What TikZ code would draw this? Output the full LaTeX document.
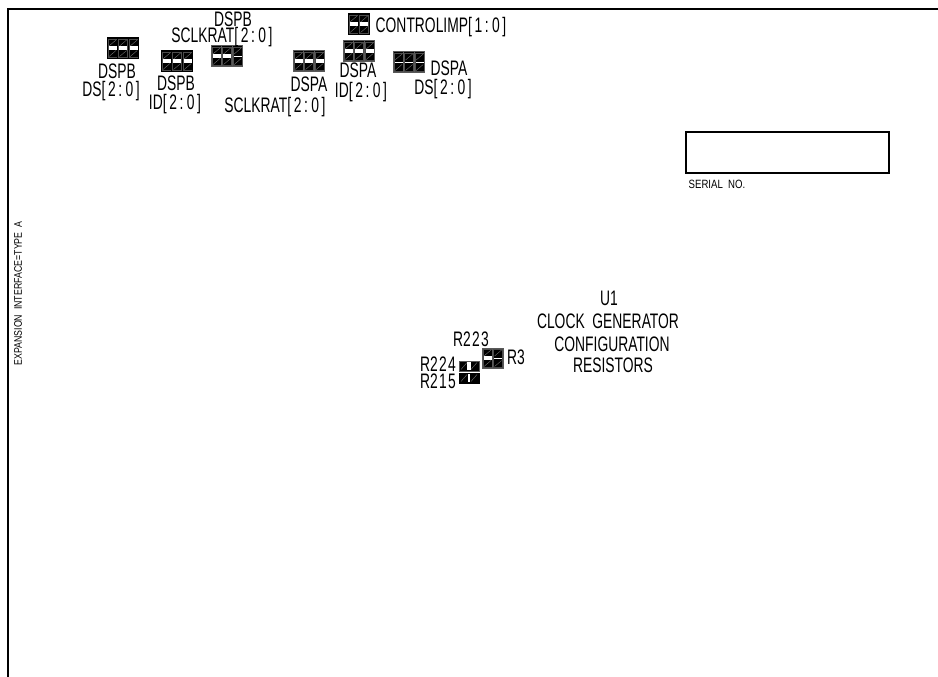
\documentclass[tikz,border=0pt]{standalone}
\usepackage{fontspec}
\setmainfont{Liberation Sans}
\usepackage{graphicx}

\definecolor{padgray}{rgb}{0.35,0.35,0.35}

\newcommand{\cadtext}[2][21bp]{\scalebox{0.66}[1]{\fontsize{#1}{#1}\selectfont #2}}
\newcommand{\cadsmall}[2][12bp]{\scalebox{0.8}[1]{\fontsize{#1}{#1}\selectfont #2}}
\newcommand{\cadrange}[2]{[\kern4bp #1\kern4bp:\kern5bp #2\kern4bp]}

% one jumper column: left x, top y, band height, border colour
\newcommand{\jumpcol}[4]{
  \fill [black] (#1,#2) rectangle ++(10.6,20.4);
  \draw [white!45!black,line width=0.4bp] (#1+2,#2+8) -- (#1+9,#2+2);
  \draw [white!45!black,line width=0.4bp] (#1+2,#2+18.5) -- (#1+9,#2+12.5);
  \fill [white] (#1+0.6,#2+10.2-#3/2) rectangle ++(9.4,#3);
  \draw [white!30!black,line width=0.4bp] (#1+0.9,#2+1) rectangle ++(8.8,18.4);
  \draw [#4,line width=1bp] (#1,#2) rectangle ++(10.6,20.4);
}

% one flat jumper: left x, top y, band width, border colour
\newcommand{\jumprow}[4]{
  \fill [black] (#1,#2) rectangle ++(20,10);
  \draw [white!45!black,line width=0.4bp] (#1+2,#2+8.5) -- (#1+8,#2+1.5);
  \draw [white!45!black,line width=0.4bp] (#1+12,#2+8.5) -- (#1+18,#2+1.5);
  \fill [white] (#1+10-#3/2,#2+0.6) rectangle ++(#3,8.8);
  \draw [#4,line width=1bp] (#1,#2) rectangle ++(20,10);
}

\tikzset{
  lbl/.style={inner sep=0pt,outer sep=0pt,anchor=center},
  serialbox/.style={draw,line width=2.9bp},
  frameline/.style={line width=1.8bp},
}

\begin{document}
\begin{tikzpicture}[x=1bp,y=-1bp]

\useasboundingbox (0,0) rectangle (938,677);

% Sheet frame
\draw [frameline] (938,9) -- (8,9) -- (8,677);

% Jumpers: DSPB
\jumpcol{107}{38}{4}{black}\jumpcol{117.6}{38}{4}{black}\jumpcol{128.2}{38}{4}{black}
\jumpcol{161}{51}{4}{black}\jumpcol{171.6}{51}{4}{black}\jumpcol{182.2}{51}{4}{black}
\jumpcol{211}{46}{4}{padgray}\jumpcol{221.6}{46}{4}{padgray}\jumpcol{232.2}{46}{1.2}{padgray}

% Jumpers: DSPA
\jumpcol{293}{51}{4}{padgray}\jumpcol{303.6}{51}{4}{padgray}\jumpcol{314.2}{51}{4}{padgray}
\jumpcol{343}{41}{4}{padgray}\jumpcol{353.6}{41}{4}{padgray}\jumpcol{364.2}{41}{4}{padgray}
\jumpcol{393}{52}{1.2}{padgray}\jumpcol{403.6}{52}{1.2}{padgray}\jumpcol{414.2}{52}{1.2}{padgray}

% Jumper: CONTROLIMP
\jumpcol{348}{14}{4}{black}\jumpcol{358.6}{14}{4}{black}

% Jumper: R3
\jumpcol{482}{348}{4}{padgray}\jumpcol{492.6}{348}{1.2}{padgray}

% Jumpers: R224, R215
\jumprow{459}{361}{3.4}{padgray}
\jumprow{459}{373}{1.4}{black}

% Serial box
\draw [serialbox] (686,132) rectangle (889,173);
\node [lbl] (serial) at (717,184) {\cadsmall{SERIAL\ \ NO.}};

% Labels: DSPB
\node [lbl] (dspbone) at (117,71) {\cadtext{DSPB}};
\node [lbl] (dspbds) at (111,91) {\cadtext{DS\cadrange{2}{0}}};
\node [lbl] (dspbtwo) at (176,83) {\cadtext{DSPB}};
\node [lbl] (dspbid) at (175,104) {\cadtext{ID\cadrange{2}{0}}};
\node [lbl] (dspbthree) at (233,19.5) {\cadtext{DSPB}};
\node [lbl] (dspbsclk) at (222,37) {\cadtext{SCLKRAT\cadrange{2}{0}}};

% Labels: DSPA
\node [lbl] (dspaone) at (309,84) {\cadtext{DSPA}};
\node [lbl] (dspasclk) at (275,107.5) {\cadtext{SCLKRAT\cadrange{2}{0}}};
\node [lbl] (dspatwo) at (358,70.5) {\cadtext{DSPA}};
\node [lbl] (dspaid) at (361,92) {\cadtext{ID\cadrange{2}{0}}};
\node [lbl] (dspathree) at (449,68.5) {\cadtext{DSPA}};
\node [lbl] (dspads) at (443,89) {\cadtext{DS\cadrange{2}{0}}};
\node [lbl] (controlimp) at (441,27) {\cadtext{CONTROLIMP\cadrange{1}{0}}};

% Labels: U1
\node [lbl] (uone) at (609,298) {\cadtext{U1}};
\node [lbl] (clockgen) at (608,321) {\cadtext{CLOCK\ \ GENERATOR}};
\node [lbl] (config) at (612,344) {\cadtext{CONFIGURATION}};
\node [lbl] (resistors) at (613,365) {\cadtext{RESISTORS}};
\node [lbl] (rtwotwothree) at (471,339) {\cadtext{R2\kern2bp 2\kern2bp 3}};
\node [lbl] (rthree) at (516,357) {\cadtext{R3}};
\node [lbl] (rtwotwofour) at (438,364.5) {\cadtext{R2\kern2bp 2\kern2bp 4}};
\node [lbl] (rtwoonefive) at (438,381.5) {\cadtext{R2\kern2bp 1\kern2bp 5}};

% Side note
\node [lbl,rotate=90] (expansion) at (18,293.5) {\cadsmall[11bp]{EXPANSION\ \ INTERFACE=TYPE\ \ A}};

\end{tikzpicture}
\end{document}
